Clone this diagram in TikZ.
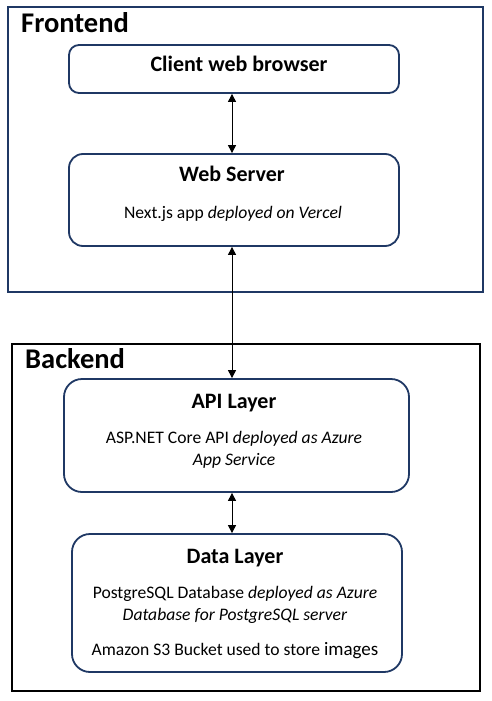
\documentclass[tikz,border=0pt]{standalone}
\usepackage{fontspec}
\setmainfont{Carlito}
\usetikzlibrary{arrows.meta}
\definecolor{navy}{HTML}{1F3864}
\tikzset{
  group/.style={draw, line width=1.8pt},
  layerbox/.style={draw=navy, line width=1.8pt, fill=white, inner sep=0pt},
  grouptitle/.style={anchor=base west, inner sep=0pt, font=\fontsize{28.5}{32}\selectfont\bfseries},
  boxtitle/.style={anchor=base, inner sep=0pt, font=\fontsize{22}{26}\selectfont\bfseries},
  boxtext/.style={anchor=base, inner sep=0pt, font=\fontsize{17.6}{21}\selectfont},
  link/.style={line width=1pt, {Triangle[width=8pt,length=8pt]}-{Triangle[width=8pt,length=8pt]}}
}
\begin{document}
\begin{tikzpicture}[x=1pt,y=-1pt]
\useasboundingbox (0,0) rectangle (492,701);
% groups
\draw[group, draw=navy] (8,7) rectangle (483,292);
\draw[group, draw=black] (12,344) rectangle (480,691);
\node[grouptitle] (fe) at (21,33) {Frontend};
\node[grouptitle] (be) at (25,368) {Backend};
% boxes
\node[layerbox, rounded corners=10pt, minimum width=330pt, minimum height=48pt] (client) at (234,69) {};
\node[layerbox, rounded corners=14pt, minimum width=330pt, minimum height=92pt] (web) at (234,200) {};
\node[layerbox, rounded corners=18pt, minimum width=345pt, minimum height=113pt] (api) at (236.5,435.5) {};
\node[layerbox, rounded corners=18pt, minimum width=330pt, minimum height=138pt] (data) at (237,603) {};
% texts
\node[boxtitle] (clientT) at (239,71) {Client web browser};
\node[boxtitle] (webT) at (232,181) {Web Server};
\node[boxtext] (webB) at (233,218) {Next.js app \textit{deployed on Vercel}};
\node[boxtitle] (apiT) at (234,408) {API Layer};
\node[boxtext] (apiB1) at (234,443) {ASP.NET Core API \textit{deployed as Azure}};
\node[boxtext] (apiB2) at (234,465) {\textit{App Service}};
\node[boxtitle] (dataT) at (235,563) {Data Layer};
\node[boxtext] (dataB1) at (235,598) {PostgreSQL Database \textit{deployed as Azure}};
\node[boxtext] (dataB2) at (235,620) {\textit{Database for PostgreSQL server}};
\node[boxtext] (dataB3) at (235,655) {Amazon S3 Bucket used to store {\fontsize{19}{21}\selectfont images}};
% connectors
\coordinate (ax) at (232,0);
\draw[link] (client.south -| ax) -- (web.north -| ax);
\draw[link] (web.south -| ax) -- (api.north -| ax);
\draw[link] (api.south -| ax) -- (data.north -| ax);
\end{tikzpicture}
\end{document}
